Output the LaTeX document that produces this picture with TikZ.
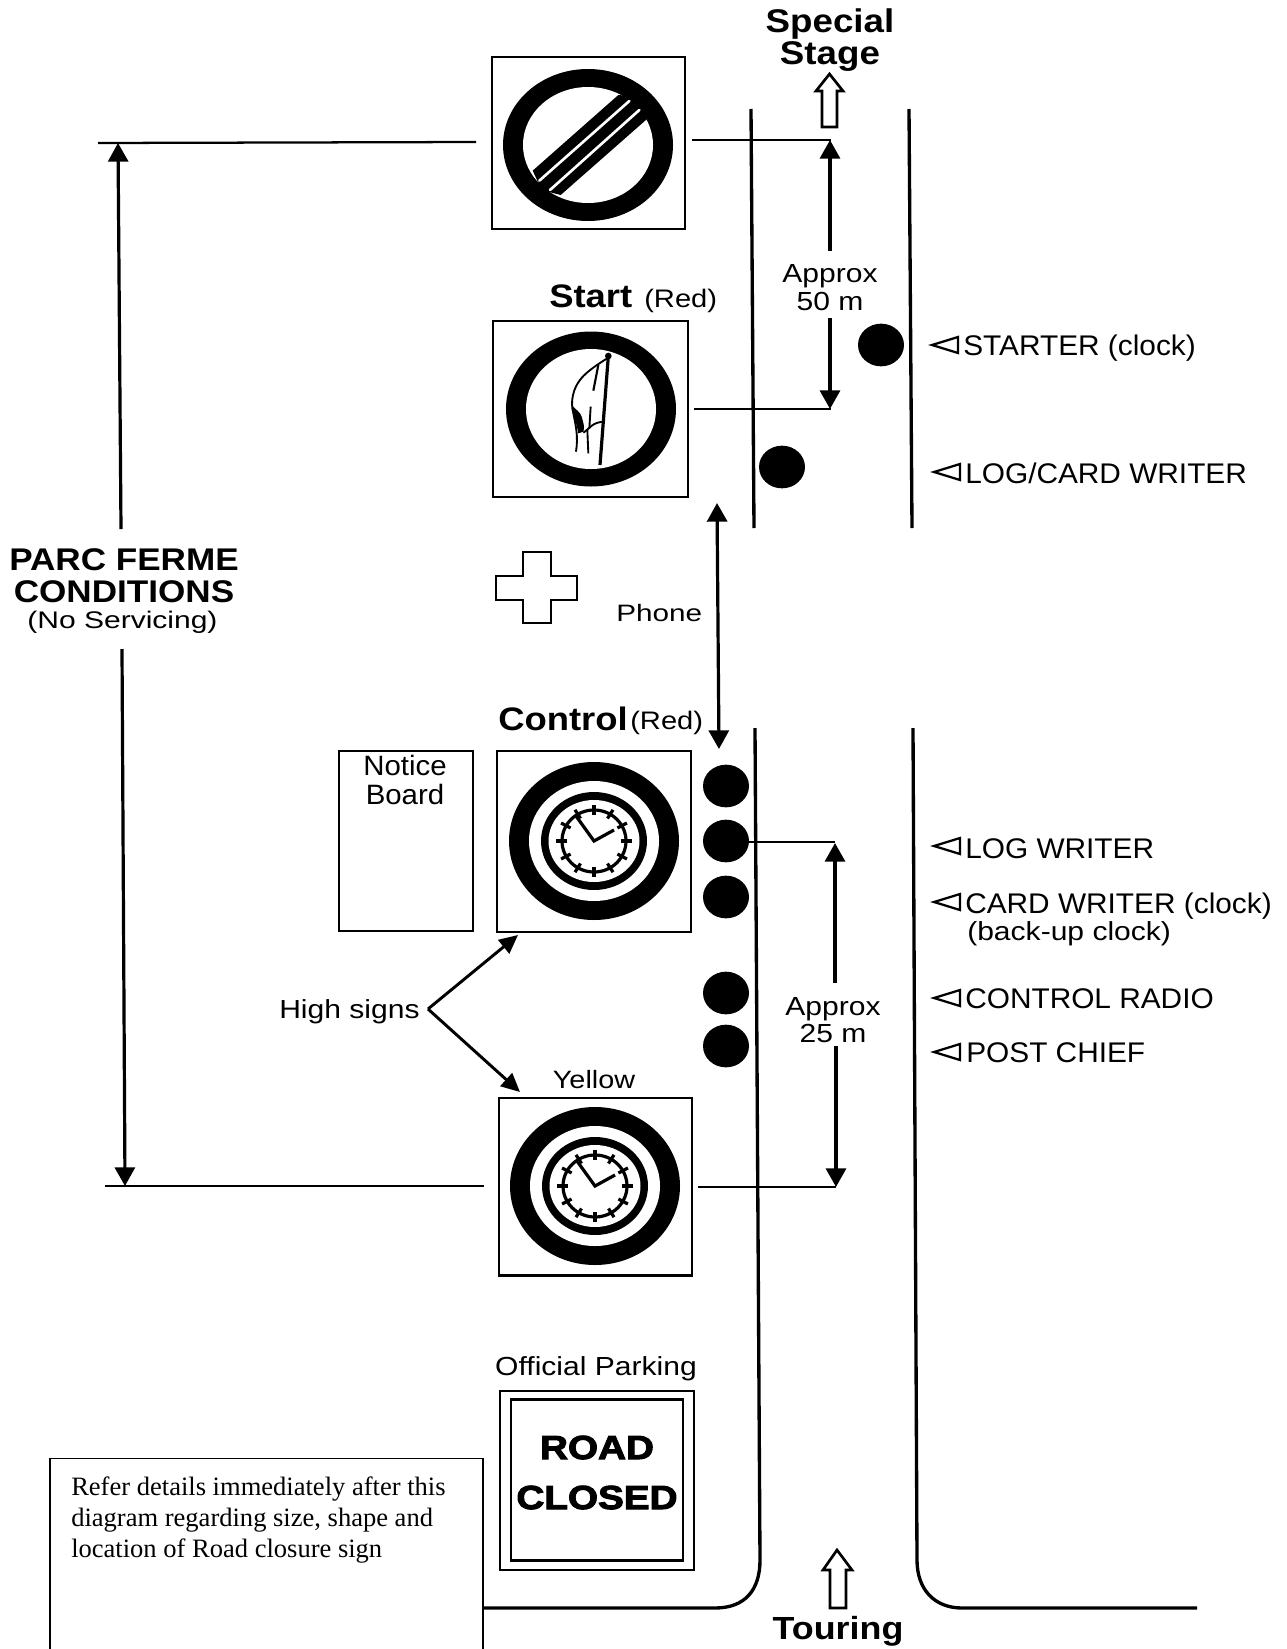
\documentclass[tikz,border=0pt]{standalone}
\usepackage{fontspec}
\setmainfont{Liberation Sans}
\newfontfamily\serifnote{Liberation Serif}
\newfontfamily\heavyfont[BoldFeatures={FakeBold=3,FakeStretch=1.16}]{Liberation Sans}
\newfontfamily\headfont[BoldFeatures={FakeStretch=1.12}]{Liberation Sans}
\newfontfamily\sansa[FakeStretch=1.05]{Liberation Sans}
\newfontfamily\sansb[FakeStretch=1.15]{Liberation Sans}
\newfontfamily\sansc[FakeStretch=1.25]{Liberation Sans}
\usetikzlibrary{arrows.meta,shapes.geometric}
\newcommand{\fsz}[1]{\fontsize{#1}{#1}\selectfont}
\tikzset{
  signbox/.style={draw,line width=2pt,rectangle,inner sep=0pt},
  lbl/.style={inner sep=0pt,anchor=base,font=\sansb\fsz{19.6}},
  lblw/.style={inner sep=0pt,anchor=base west,font=\sansb\fsz{19.6}},
  role/.style={inner sep=0pt,anchor=base west,font=\sansa\fsz{21.3}},
  head/.style={inner sep=0pt,anchor=base,font=\headfont\bfseries\fsz{24.4}},
  heavy/.style={inner sep=0pt,anchor=base,font=\heavyfont\bfseries\fsz{25}},
  notetext/.style={inner sep=0pt,anchor=base west,font=\serifnote\fsz{19.9}},
  pers/.style={ellipse,fill=black,inner sep=0pt,minimum width=34.5pt,minimum height=32pt},
  roadline/.style={line width=2.5pt},
  thinline/.style={line width=1.3pt},
  refline/.style={line width=1.7pt},
  dim/.style={line width=2.4pt,-{Triangle[length=14pt,width=15pt]}},
  dimb/.style={line width=2.4pt,{Triangle[length=14pt,width=15pt]}-{Triangle[length=14pt,width=15pt]}},
  sarrow/.style={line width=2.2pt,-{Triangle[length=14pt,width=13pt]}},
  outlinearrow/.style={line width=2pt,line join=miter},
}
\newcommand{\ringface}[4]{%
  \fill[black] (#1,#2) ellipse [x radius=85,y radius=#3];
  \fill[white] (#1,#2) ellipse [x radius=65,y radius=#4];
}
\newcommand{\clockface}[2]{%
  \ringface{#1}{#2}{79}{60}
  \fill[black] (#1,#2) ellipse [x radius=53,y radius=49];
  \fill[white] (#1,#2) ellipse [x radius=45.5,y radius=41];
  \draw[line width=2.4pt] (#1,#2) ellipse [x radius=32,y radius=31];
  \foreach \a in {0,30,...,330}{
    \draw[line width=2.4pt] ({#1+27*cos(\a)},{#2+26*sin(\a)}) -- ({#1+38*cos(\a)},{#2+36*sin(\a)});
  }
  \draw[line width=2.4pt] ({#1-18},{#2-25}) -- (#1,#2) -- ({#1+20},{#2-11});
}
\newcommand{\opentri}[2]{%
  \draw[line width=1.7pt,line join=miter] (#1,#2) -- ({#1+26},{#2-8}) -- ({#1+26},{#2+8}) -- cycle;
}
\begin{document}
\begin{tikzpicture}[x=0.75pt,y=-0.75pt]
\useasboundingbox (0,0) rectangle (1287,1649);
\fill[white] (0,0) rectangle (1287,1649);

% roads
\coordinate (ul1) at (751,109); \coordinate (ul2) at (754,528);
\coordinate (ur1) at (909,109); \coordinate (ur2) at (912,528);
\draw[roadline] (ul1) -- (ul2);
\draw[roadline] (ur1) -- (ur2);
\coordinate (ll1) at (755,728); \coordinate (ll2) at (760,1560); \coordinate (ll3) at (715,1608); \coordinate (ll4) at (483,1608);
\draw[roadline] (ll1) -- (ll2) .. controls (760,1590) and (745,1608) .. (ll3) -- (ll4);
\coordinate (lr1) at (913,728); \coordinate (lr2) at (917,1560); \coordinate (lr3) at (962,1608); \coordinate (lr4) at (1197,1608);
\draw[roadline] (lr1) -- (lr2) .. controls (917,1590) and (935,1608) .. (lr3) -- (lr4);

% direction arrows
\draw[outlinearrow] (829.5,74) -- (843,91) -- (837,91) -- (837,127) -- (822,127) -- (822,91) -- (816,91) -- cycle;
\draw[outlinearrow] (837,1550) -- (852,1570) -- (846,1570) -- (846,1608) -- (830,1608) -- (830,1570) -- (823,1570) -- cycle;

% signs
\node[signbox,minimum width=144.75pt,minimum height=129pt] (s1) at (588.5,143) {};
\node[signbox,minimum width=146.25pt,minimum height=132pt] (s2) at (590.5,409) {};
\node[signbox,minimum width=145.5pt,minimum height=135.75pt] (s3) at (594,841.5) {};
\node[signbox,minimum width=144.75pt,minimum height=133pt] (s4) at (595.5,1186.5) {};
\node[signbox,minimum width=100.5pt,minimum height=135pt] (nb) at (406,841) {};

% end-of-limit sign
\ringface{588}{145}{76}{58}
\begin{scope}[shift={(470,40)},x=0.25pt,y=-0.25pt]
  \fill[black] (188,392) -- (445,165) -- (500,170) -- (530,238) -- (272,465) -- (215,450) -- cycle;
  \draw[white,line width=2pt,line cap=round] (208,422) -- (478,183);
  \draw[white,line width=2pt,line cap=round] (240,450) -- (508,210);
\end{scope}

% start sign
\ringface{591}{409}{77.5}{60}
\begin{scope}[shift={(470,40)},x=0.25pt,y=-0.25pt]
  \draw[line width=2.4pt] (415,948) -- (390,1275);
  \fill (415,948) circle [radius=10];
  \draw[line width=1.4pt] (412,955) .. controls (370,980) and (340,1005) .. (330,1020) .. controls (310,1045) and (300,1085) .. (310,1120) .. controls (318,1160) and (325,1190) .. (318,1235);
  \fill (305,1095) .. controls (318,1110) and (330,1115) .. (335,1130) .. controls (340,1150) and (345,1160) .. (340,1175) -- (325,1180) .. controls (320,1150) and (310,1130) .. cycle;
  \draw[line width=1.4pt] (352,1170) -- (355,1240);
  \draw[line width=1.4pt] (340,1178) .. controls (360,1165) and (365,1148) .. (400,1145);
  \draw[line width=1.6pt] (385,975) -- (370,1052);
  \draw[line width=1.4pt] (362,1100) -- (358,1165);
\end{scope}

\clockface{594}{841}
\clockface{595}{1186}

% road closed sign
\node[signbox,minimum width=145.5pt,minimum height=134.25pt] (rc) at (597,1480.5) {};
\node[signbox,minimum width=129pt,minimum height=120.75pt] (rci) at (597,1480) {};
\node[heavy] (road) at (597,1459) {ROAD};
\node[heavy] (closed) at (597,1509) {CLOSED};

% red cross
\draw[line width=1.9pt,line join=miter] (523,552) -- (551,552) -- (551,576) -- (577,576) -- (577,600) -- (551,600) -- (551,623) -- (523,623) -- (523,600) -- (496,600) -- (496,576) -- (523,576) -- cycle;

% persons
\node[pers] (p1) at (881,345) {};
\node[pers] (p2) at (782,467) {};
\node[pers] (p3) at (726,786) {};
\node[pers] (p4) at (726,841) {};
\node[pers] (p5) at (726,897) {};
\node[pers] (p6) at (726,993) {};
\node[pers] (p7) at (726,1046) {};

% dimension lines
\coordinate (a1) at (98,143); \coordinate (a2) at (476,142);
\coordinate (a3) at (105,1186); \coordinate (a4) at (484,1186);
\draw[refline] (a1) -- (a2);
\draw[refline] (a3) -- (a4);
\coordinate (pf1) at (121,529); \coordinate (pf2) at (118,143);
\coordinate (pf3) at (122,649); \coordinate (pf4) at (125,1186);
\draw[dim] (pf1) -- (pf2);
\draw[dim] (pf3) -- (pf4);

\coordinate (b1) at (692,140); \coordinate (b2) at (831,140);
\coordinate (b3) at (694,409); \coordinate (b4) at (831,409);
\draw[thinline] (b1) -- (b2);
\draw[thinline] (b3) -- (b4);
\coordinate (c1) at (830,251); \coordinate (c2) at (830,140);
\coordinate (c3) at (830,318); \coordinate (c4) at (830,409);
\draw[dim] (c1) -- (c2);
\draw[dim] (c3) -- (c4);

\coordinate (d1) at (749,842); \coordinate (d2) at (835,842);
\coordinate (d3) at (698,1187); \coordinate (d4) at (836,1187);
\draw[thinline] (d1) -- (d2);
\draw[thinline] (d3) -- (d4);
\coordinate (e1) at (835,983); \coordinate (e2) at (835,843);
\coordinate (e3) at (836,1046); \coordinate (e4) at (836,1187);
\draw[dim] (e1) -- (e2);
\draw[dim] (e3) -- (e4);

\coordinate (ph1) at (717,503); \coordinate (ph2) at (719,749);
\draw[dimb] (ph1) -- (ph2);

\coordinate (hs) at (428,1009); \coordinate (hs1) at (518,935); \coordinate (hs2) at (520,1092);
\draw[sarrow] (hs) -- (hs1);
\draw[sarrow] (hs) -- (hs2);

% note box
\coordinate (nt1) at (50,1649); \coordinate (nt2) at (50,1458.5); \coordinate (nt3) at (483,1458.5); \coordinate (nt4) at (483,1649);
\fill[white] (nt1) -- (nt2) -- (nt3) -- (nt4) -- cycle;
\draw[line width=0.9pt] (nt1) -- (nt2) -- (nt3) -- (nt4);
\node[notetext] (n1) at (71,1495) {Refer details immediately after this};
\node[notetext] (n2) at (71,1526) {diagram regarding size, shape and};
\node[notetext] (n3) at (71,1557.5) {location of Road closure sign};

% texts
\node[head,font=\headfont\bfseries\fsz{24.6}] (t1) at (830,32) {Special};
\node[head,font=\headfont\bfseries\fsz{24.6}] (t2) at (830,64) {Stage};
\node[head,anchor=base west] (t3) at (549,307) {Start};
\node[lblw,font=\sansb\fsz{19}] (t4) at (644,307) {(Red)};
\node[head,anchor=base west] (t5) at (498,730) {Control};
\node[lblw,font=\sansb\fsz{19}] (t6) at (630,729) {(Red)};
\node[head,font=\headfont\bfseries\fsz{23.5}] (t7) at (124,570) {PARC FERME};
\node[head,font=\headfont\bfseries\fsz{23.5}] (t8) at (124,602) {CONDITIONS};
\node[lbl,font=\sansc\fsz{18}] (t9) at (122.5,628) {(No Servicing)};
\node[lbl] (t10) at (830,282) {Approx};
\node[lbl] (t11) at (830,310) {50 m};
\node[lbl] (t12) at (833,1015) {Approx};
\node[lbl] (t13) at (833,1042) {25 m};
\node[lblw,font=\sansc\fsz{17.8}] (t14) at (616,621) {Phone};
\node[lblw] (t15) at (279,1018) {High signs};
\node[lbl,font=\sansa\fsz{21}] (t16) at (405,775) {Notice};
\node[lbl,font=\sansa\fsz{21}] (t17) at (405,804) {Board};
\node[lbl,font=\sansb\fsz{18.8}] (t18) at (594,1088) {Yellow};
\node[lbl] (t19) at (596,1375) {Official Parking};
\node[head,font=\headfont\bfseries\fsz{24}] (t20) at (838,1639) {Touring};

% role labels
\opentri{932}{345}
\node[role] (r1) at (963,355) {STARTER (clock)};
\opentri{934}{472}
\node[role] (r2) at (965,483) {LOG/CARD WRITER};
\opentri{934}{846}
\node[role] (r3) at (965,858) {LOG WRITER};
\opentri{934}{902}
\node[role] (r4) at (965,913) {CARD WRITER (clock)};
\node[lblw] (r5) at (967,940) {(back-up clock)};
\opentri{934}{998}
\node[role] (r6) at (965,1008) {CONTROL RADIO};
\opentri{934}{1052}
\node[role] (r7) at (966,1062) {POST CHIEF};
\end{tikzpicture}
\end{document}
